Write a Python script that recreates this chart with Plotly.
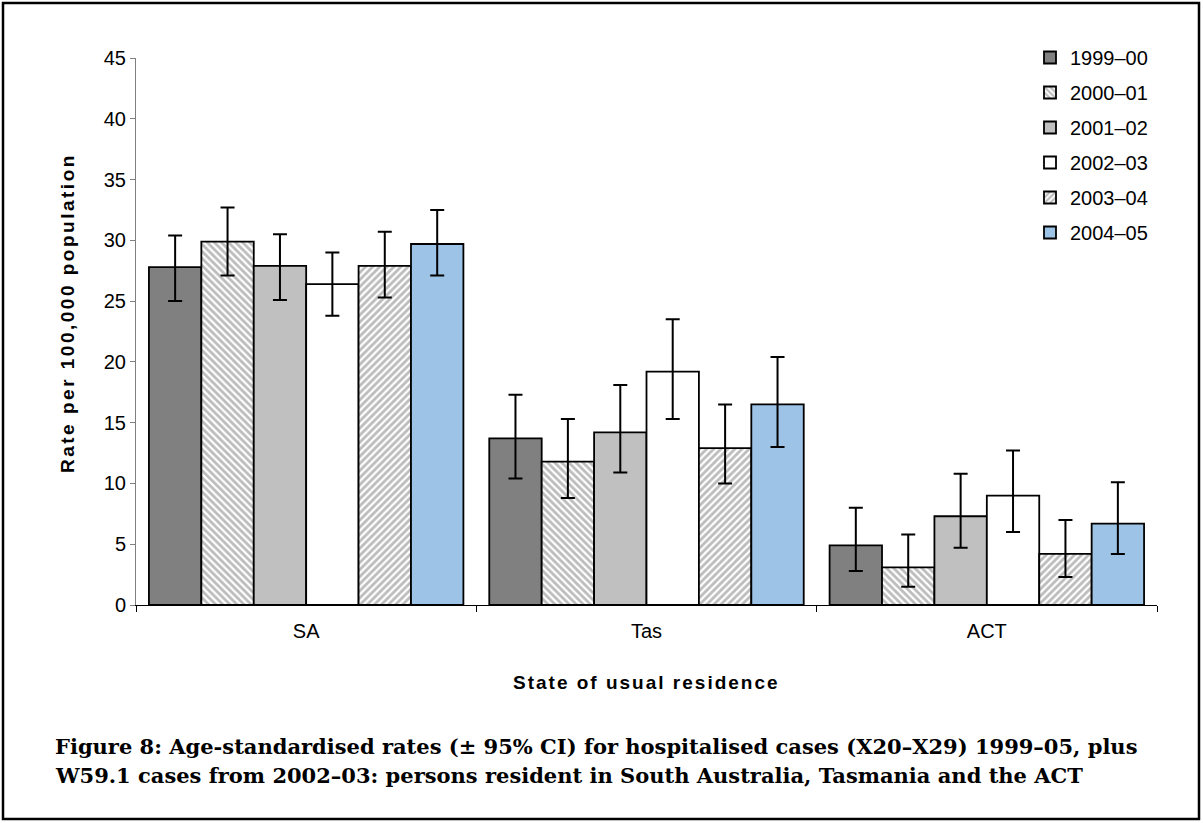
import plotly.graph_objects as go

states = ["SA", "Tas", "ACT"]
years = ["1999–00", "2000–01", "2001–02", "2002–03", "2003–04", "2004–05"]

rates = {
    "1999–00": [27.8, 13.7, 4.9],
    "2000–01": [29.9, 11.8, 3.1],
    "2001–02": [27.9, 14.2, 7.3],
    "2002–03": [26.4, 19.2, 9.0],
    "2003–04": [27.9, 12.9, 4.2],
    "2004–05": [29.7, 16.5, 6.7],
}
ci_upper = {
    "1999–00": [30.4, 17.3, 8.0],
    "2000–01": [32.7, 15.3, 5.8],
    "2001–02": [30.5, 18.1, 10.8],
    "2002–03": [29.0, 23.5, 12.7],
    "2003–04": [30.7, 16.5, 7.0],
    "2004–05": [32.5, 20.4, 10.1],
}
ci_lower = {
    "1999–00": [25.0, 10.4, 2.8],
    "2000–01": [27.1, 8.8, 1.5],
    "2001–02": [25.1, 10.9, 4.7],
    "2002–03": [23.8, 15.3, 6.0],
    "2003–04": [25.3, 10.0, 2.3],
    "2004–05": [27.1, 13.0, 4.2],
}

y_title = "Rate per 100,000 population"
x_title = "State of usual residence"
caption1 = "Figure 8: Age-standardised rates (± 95% CI) for hospitalised cases (X20–X29) 1999–05, plus"
caption2 = "W59.1 cases from 2002–03: persons resident in South Australia, Tasmania and the ACT"

fills = {
    "1999–00": dict(color="#808080", pattern=None),
    "2000–01": dict(color="#ffffff", pattern=dict(shape="\\", fgcolor="#7a7a7a", bgcolor="#ffffff", size=5, solidity=0.55)),
    "2001–02": dict(color="#c0c0c0", pattern=None),
    "2002–03": dict(color="#ffffff", pattern=None),
    "2003–04": dict(color="#ffffff", pattern=dict(shape="/", fgcolor="#7a7a7a", bgcolor="#ffffff", size=5, solidity=0.55)),
    "2004–05": dict(color="#9dc3e6", pattern=None),
}

fig = go.Figure()
for y in years:
    vals = rates[y]
    up = [u - v for u, v in zip(ci_upper[y], vals)]
    lo = [v - l for v, l in zip(vals, ci_lower[y])]
    marker = dict(color=fills[y]["color"], line=dict(color="#000000", width=1.8))
    if fills[y]["pattern"]:
        marker["pattern"] = fills[y]["pattern"]
    fig.add_trace(go.Bar(
        name=y, x=states, y=vals, marker=marker,
        legendgroup=y,
        error_y=dict(type="data", symmetric=False, array=up, arrayminus=lo,
                     color="#000000", thickness=2, width=7),
    ))

ML, MR, MT, MB = 136, 46, 58, 218
W, H = 1203, 823
pw, ph = W - ML - MR, H - MT - MB

def px_x(p):
    return (p - ML) / pw

def px_y(p):
    return (H - MB - p) / ph

fig.update_layout(
    width=W, height=H,
    margin=dict(l=ML, r=MR, t=MT, b=MB, pad=0),
    paper_bgcolor="white", plot_bgcolor="white",
    barmode="group", bargap=0.076, bargroupgap=0,
    font=dict(family="Liberation Sans, Arial, sans-serif", size=20, color="#000000"),
    showlegend=True,
    legend=dict(x=px_x(1030), y=px_y(38), xanchor="left", yanchor="top",
                bgcolor="rgba(0,0,0,0)", tracegroupgap=6,
                font=dict(size=20), itemwidth=30),
    xaxis=dict(
        showline=True, linecolor="#000000", linewidth=1,
        ticks="outside", tickson="boundaries", ticklen=6, tickcolor="#000000",
        tickfont=dict(size=20), showgrid=False, ticklabelstandoff=8,
    ),
    yaxis=dict(
        range=[0, 45], dtick=5, showline=True, linecolor="#808080", linewidth=1,
        ticks="outside", ticklen=5, tickcolor="#808080", showgrid=False, zeroline=False,
        tickfont=dict(size=20),
    ),
)

# axis titles
fig.add_annotation(text='<b><span style="letter-spacing:2.5px">' + y_title + '</span></b>',
                   xref="paper", yref="paper", x=px_x(67), y=px_y(313),
                   xanchor="center", yanchor="middle", textangle=-90, showarrow=False,
                   font=dict(size=19))
fig.add_annotation(text='<b><span style="letter-spacing:2px">' + x_title + '</span></b>',
                   xref="paper", yref="paper", x=px_x(646), y=px_y(682),
                   xanchor="center", yanchor="middle", showarrow=False,
                   font=dict(size=19))

# outer frame
fig.add_shape(type="rect", xref="paper", yref="paper",
              x0=px_x(3), x1=px_x(1199), y0=px_y(819), y1=px_y(3),
              line=dict(color="#000000", width=2.5), fillcolor="rgba(0,0,0,0)", layer="below")

for i, c in enumerate([caption1, caption2]):
    fig.add_annotation(text="<b>" + c + "</b>", xref="paper", yref="paper",
                       x=px_x(53), y=px_y(746 + 29 * i), xanchor="left", yanchor="middle",
                       showarrow=False,
                       font=dict(family="DejaVu Serif, serif", size=21, color="#000000"))

fig.write_html("out.html")
